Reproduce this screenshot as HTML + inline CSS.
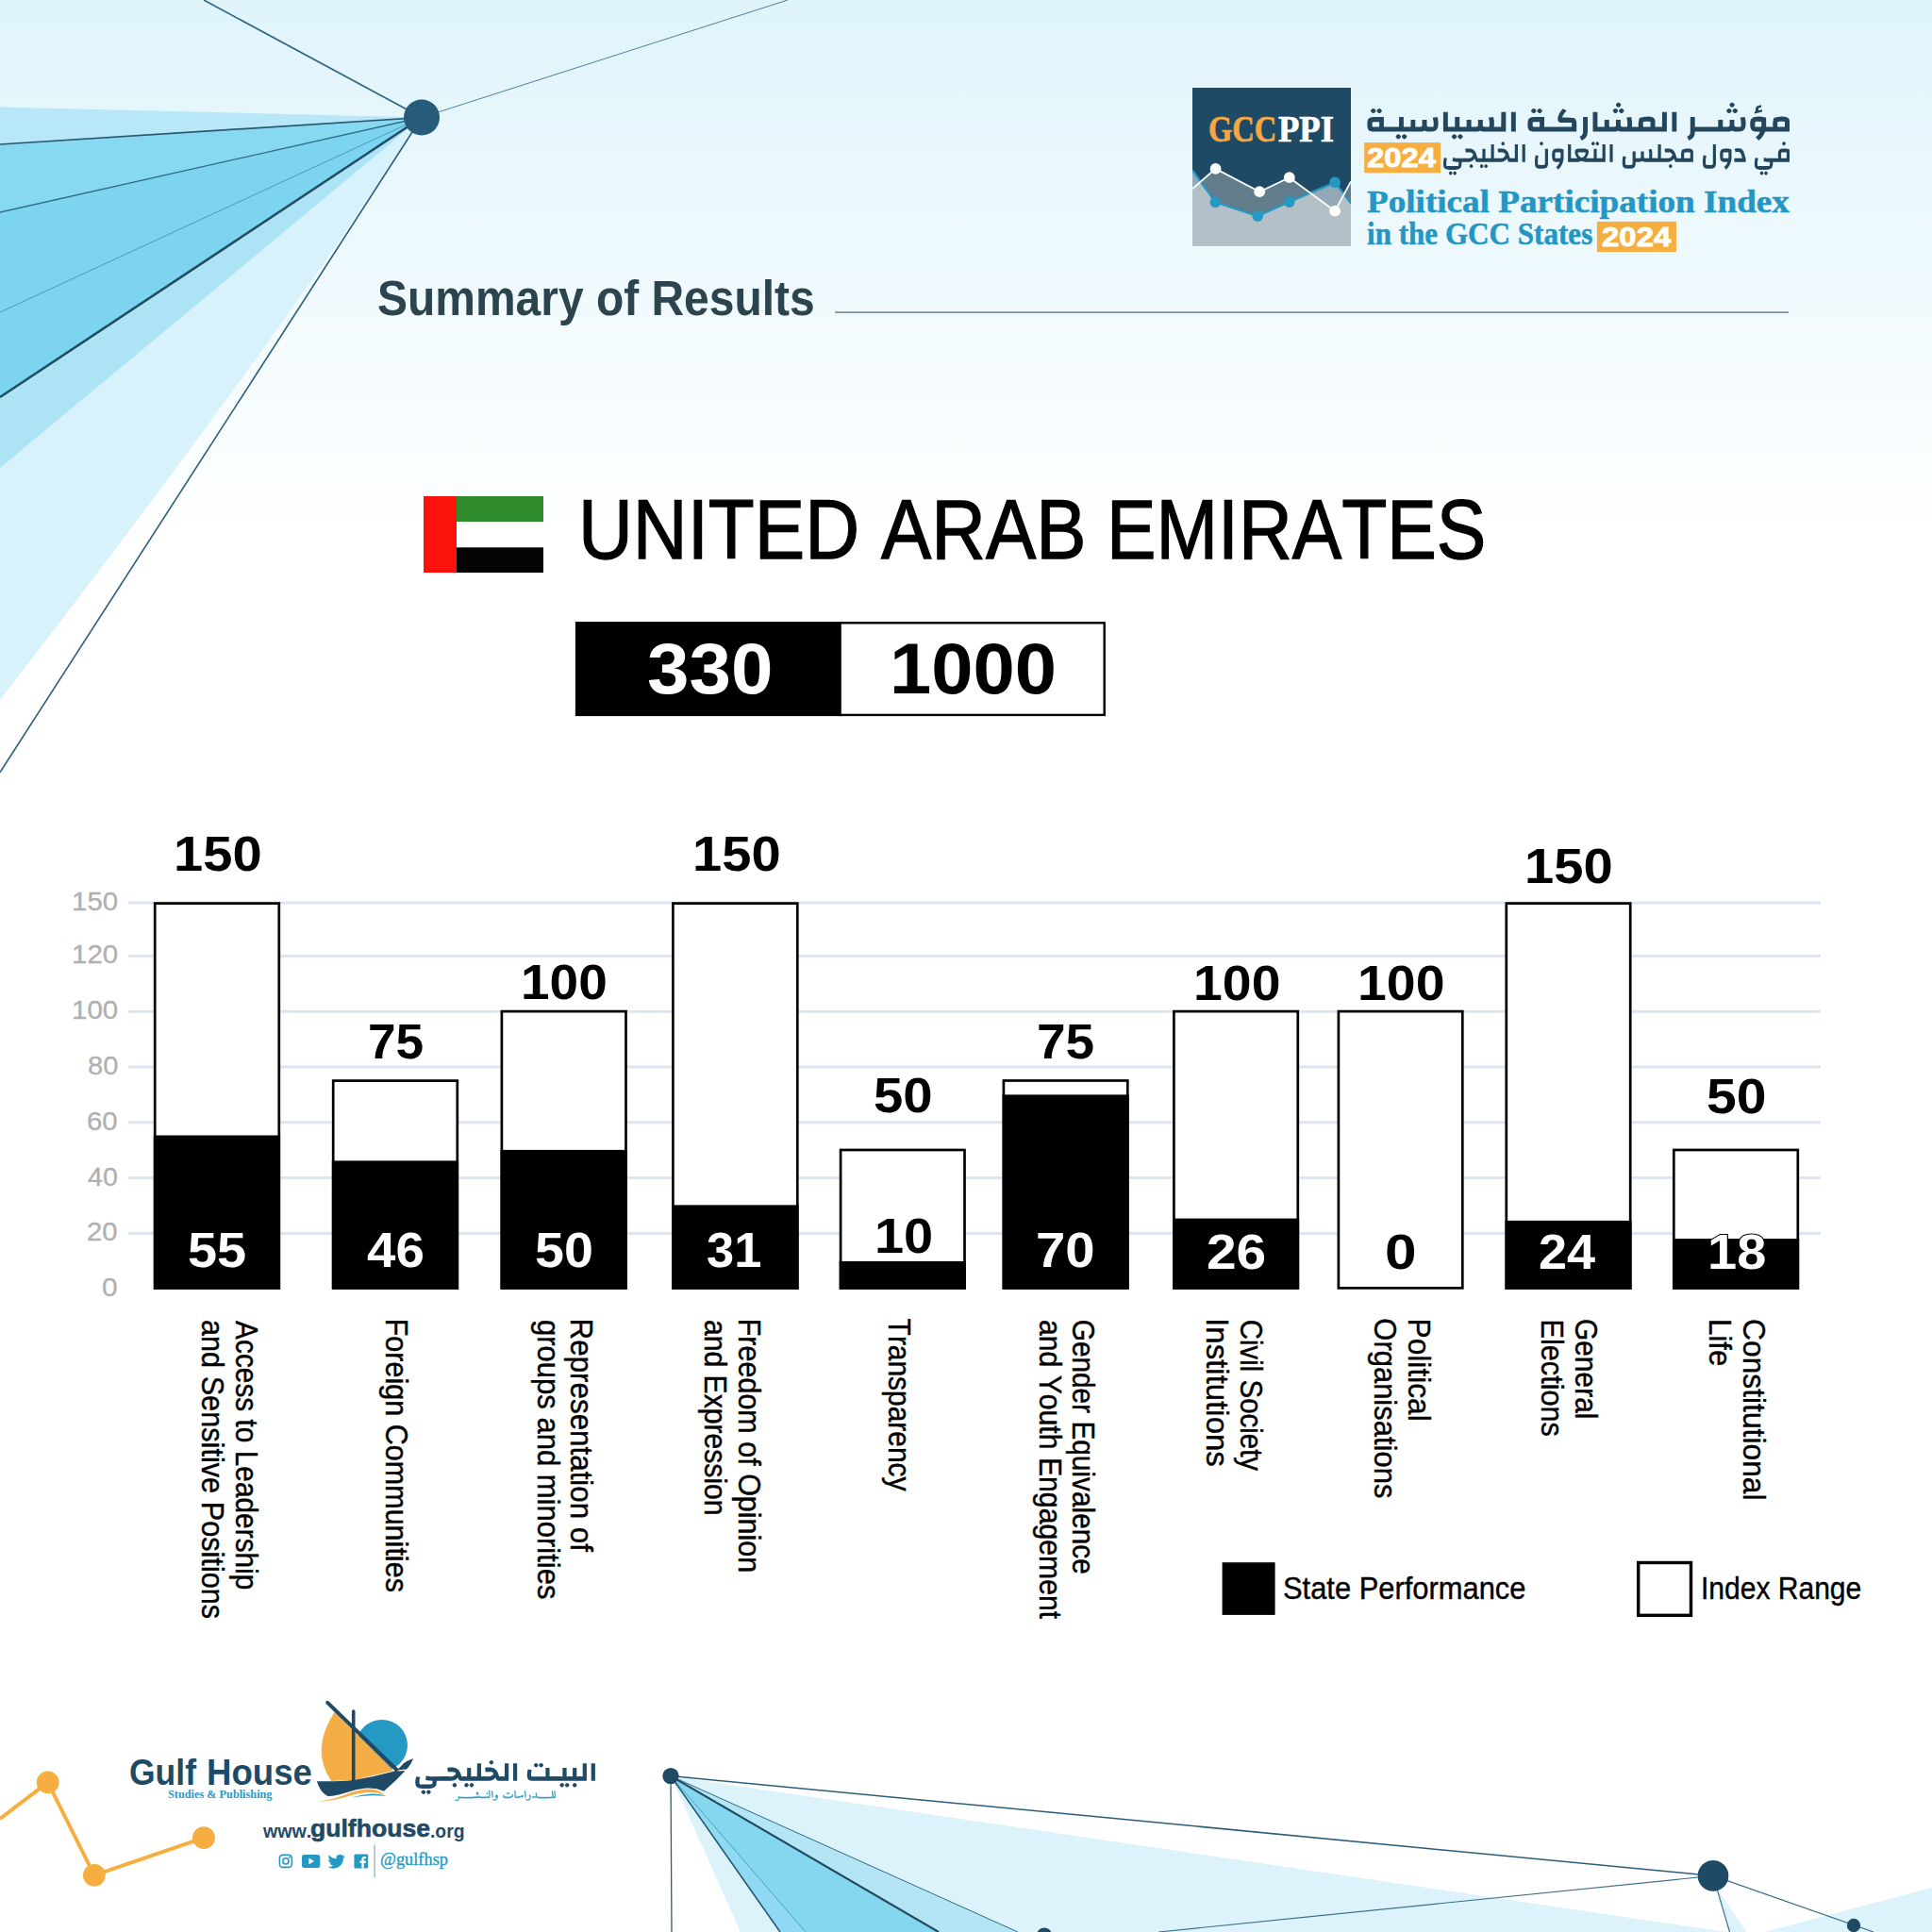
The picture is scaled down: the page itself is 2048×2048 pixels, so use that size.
<!DOCTYPE html>
<html lang="en"><head><meta charset="utf-8"><title>Political Participation Index in the GCC States 2024 - United Arab Emirates</title>
<style>
html,body{margin:0;padding:0}
body{width:2048px;height:2048px;position:relative;overflow:hidden;background:linear-gradient(180deg,#dff4fb 0px,#ffffff 580px,#ffffff 2048px);font-kerning:none}
svg.bg{position:absolute;left:0;top:0}
.t{position:absolute;white-space:nowrap;line-height:1;transform-origin:0 0;font-kerning:none;font-family:"Liberation Sans",sans-serif}
.lf{font-family:"Liberation Serif",serif}
.b{font-weight:bold}
</style></head>
<body>
<svg class="bg" width="2048" height="2048" viewBox="0 0 2048 2048">
<g id="fanTL">
<path d="M447,124.5 L0,495 L0,742 Q292,365 447,124.5Z" fill="#d8f2fb"/>
<polygon points="447,124.5 0,421 0,496" fill="#ade4f5"/>
<polygon points="447,124.5 0,113.4 0,153" fill="#b8e8f7"/>
<polygon points="447,124.5 0,153 0,225" fill="#87d8f1"/>
<polygon points="447,124.5 0,225 0,421" fill="#7dd4ef"/>
<line x1="447" y1="124.5" x2="216" y2="0" stroke="#2f6483" stroke-width="1.6" opacity="1"/>
<line x1="447" y1="124.5" x2="835" y2="0" stroke="#4f7f9a" stroke-width="1.0" opacity="1"/>
<line x1="447" y1="124.5" x2="0" y2="153" stroke="#2a5670" stroke-width="1.7" opacity="1"/>
<line x1="447" y1="124.5" x2="0" y2="225" stroke="#2f6a88" stroke-width="1.3" opacity="1"/>
<line x1="447" y1="124.5" x2="0" y2="331" stroke="#3f95b8" stroke-width="0.9" opacity="1"/>
<line x1="447" y1="124.5" x2="0" y2="421" stroke="#214b62" stroke-width="2.6" opacity="1"/>
<line x1="447" y1="124.5" x2="0" y2="818.7" stroke="#2d5d7b" stroke-width="1.6" opacity="1"/>
<circle cx="447" cy="124.5" r="19" fill="#265b79"/>
</g>
<g id="fanBR">
<polygon points="711,1882.6 1830,2048 785,2048" fill="#dcf3fb"/>
<polygon points="1870,2048 2048,2001 2048,2048" fill="#dcf3fb"/>
<polygon points="1820,2002 1851.6,2048 1833.5,2048" fill="#dcf3fb"/>
<polygon points="711,1882.6 1079,2048 995,2048" fill="#b3e5f5"/>
<polygon points="711,1882.6 995,2048 854,2048" fill="#85d7f0"/>
<polygon points="711,1882.6 854,2048 827,2048" fill="#8fdaf2"/>
<line x1="711" y1="1882.6" x2="712" y2="2048" stroke="#2d5d7b" stroke-width="1.3" opacity="1"/>
<line x1="711" y1="1882.6" x2="827" y2="2048" stroke="#255570" stroke-width="1.6" opacity="1"/>
<line x1="711" y1="1882.6" x2="854" y2="2048" stroke="#3f95b8" stroke-width="0.9" opacity="1"/>
<line x1="711" y1="1882.6" x2="995" y2="2048" stroke="#214b62" stroke-width="2.2" opacity="1"/>
<line x1="711" y1="1882.6" x2="1079" y2="2048" stroke="#2f6a88" stroke-width="1.0" opacity="1"/>
<line x1="711" y1="1882.6" x2="1816" y2="1988.4" stroke="#2d5d7b" stroke-width="1.5" opacity="1"/>
<line x1="1228" y1="2048" x2="1816" y2="1988.4" stroke="#3f6f8a" stroke-width="1.2" opacity="1"/>
<line x1="1816" y1="1988.4" x2="1986" y2="2048" stroke="#3f6f8a" stroke-width="1.2" opacity="1"/>
<line x1="1816" y1="1988.4" x2="1833.5" y2="2048" stroke="#3f6f8a" stroke-width="1.2" opacity="1"/>
<circle cx="711" cy="1882.6" r="8.7" fill="#1f4a66"/>
<circle cx="1816" cy="1988.4" r="16.3" fill="#1f4a66"/>
<circle cx="1965" cy="2041" r="7.2" fill="#1f4a66"/>
<circle cx="1107" cy="2051.5" r="8" fill="#1f4a66"/>
</g>
<g id="orange"><polyline points="0,1928 50.7,1889.4 99.9,1987.8 216,1948.1" fill="none" stroke="#f5ae3f" stroke-width="4"/><circle cx="50.7" cy="1889.4" r="11.9" fill="#f5ae3f"/><circle cx="99.9" cy="1987.8" r="11.9" fill="#f5ae3f"/><circle cx="216" cy="1948.1" r="11.9" fill="#f5ae3f"/></g>
<rect x="885" y="330.3" width="1011" height="1.6" fill="#6f8a94"/>
<defs><clipPath id="sq"><rect width="168" height="168"/></clipPath></defs>
<g id="gccppi" transform="translate(1264,93)" clip-path="url(#sq)">
<rect width="168" height="168" fill="#1f4a66"/>
<polygon points="0,107.1 24.6,85.9 71.2,110.2 102.8,95.2 151.1,130.7 168,99.4 168,168 0,168" fill="#617c8b"/>
<polygon points="0,87.5 24.4,121.3 69.2,136.1 102.8,121.1 151.1,100.4 168,122.7 168,168 0,168" fill="#ffffff" fill-opacity="0.52"/>
<polyline points="0,87.5 24.4,121.3 69.2,136.1 102.8,121.1 151.1,100.4 168,122.7" fill="none" stroke="#2399c4" stroke-width="2.2"/>
<polyline points="0,107.1 24.6,85.9 71.2,110.2 102.8,95.2 151.1,130.7 168,99.4" fill="none" stroke="#fff" stroke-width="1.8"/>
<circle cx="24.4" cy="121.3" r="5.8" fill="#2399c4"/>
<circle cx="69.2" cy="136.1" r="5.8" fill="#2399c4"/>
<circle cx="102.8" cy="121.1" r="5.8" fill="#2399c4"/>
<circle cx="151.1" cy="100.4" r="5.8" fill="#2399c4"/>
<circle cx="24.6" cy="85.9" r="5.9" fill="#fff"/>
<circle cx="71.2" cy="110.2" r="5.9" fill="#fff"/>
<circle cx="102.8" cy="95.2" r="5.9" fill="#fff"/>
<circle cx="151.1" cy="130.7" r="5.9" fill="#fff"/>
</g>
<path fill="#24465c" fill-rule="evenodd" d="M1547.7,142.3 1546.8,142.8 1546.3,143.1 1545.6,143.8 1545.3,144.5 1545.3,145.2 1545.8,146.1 1546.7,146.9 1547.4,147.3 1547.7,147.4 1548.3,147.4 1549,147.1 1549.9,146.3 1550.6,145.3 1550.7,145.1 1550.7,144.7 1550.6,144.3 1550.1,143.7 1549.3,142.8 1548.5,142.4 1548.3,142.3ZM1541.3,142.3 1540.4,142.8 1540,143.1 1539.2,143.8 1538.9,144.5 1538.9,145.2 1539.4,146.1 1540.3,146.9 1541,147.3 1541.3,147.4 1541.9,147.4 1542.6,147.1 1543.5,146.3 1544.2,145.3 1544.3,145.1 1544.3,144.7 1544.2,144.3 1543.8,143.7 1542.9,142.8 1542.2,142.4 1541.9,142.3ZM1488.4,142.3 1487.5,142.8 1487.1,143.1 1486.3,143.8 1486,144.5 1486,145.2 1486.5,146.1 1487.4,146.9 1488.1,147.3 1488.4,147.4 1489,147.4 1489.7,147.1 1490.6,146.3 1491.3,145.3 1491.4,145.1 1491.4,144.7 1491.3,144.3 1490.9,143.7 1490,142.8 1489.3,142.4 1489,142.3ZM1482,142.3 1481.1,142.8 1480.7,143.1 1480,143.8 1479.6,144.5 1479.6,145.2 1480.1,146.1 1481,146.9 1481.7,147.3 1482,147.4 1482.6,147.4 1483.3,147.1 1484.2,146.3 1484.9,145.3 1485,145.1 1485,144.7 1484.9,144.3 1484.5,143.7 1483.6,142.8 1482.9,142.4 1482.6,142.3ZM1788.4,144.8 1790.2,148.8 1790.8,148.7 1792.1,148 1793.6,147 1794.5,146.2 1795.5,144.8 1795.9,143.9 1796.4,142.6 1796.6,141.1 1796.6,140.2 1796.8,139.6 1831.1,139.6 1833,139.4 1834,139.3 1835,139 1836,138.6 1837,139.1 1838.6,139.4 1840.3,139.6 1843.1,139.6 1845.1,139.3 1846.6,138.9 1847.7,138.4 1848,138.2 1849.2,137 1849.9,135.7 1850.3,134.1 1850.6,131.6 1850.5,128.5 1850.1,126.1 1849.5,124.1 1845.4,124.6 1844.6,124.8 1845,126 1845.4,127.6 1845.6,129.5 1845.6,132.9 1845.4,134 1845.4,134.3 1845.2,134.4 1840.7,134.4 1839.4,134.2 1839.1,134 1838.7,133.7 1838.4,133 1838.4,127.1 1833.5,127.1 1833.6,132.6 1833.5,133.3 1833.2,133.8 1832.8,134.1 1832,134.4 1831.3,134.4 1826.5,134.4 1826.3,134.3 1826.3,127.1 1821.4,127.1 1821.3,134.4 1817.3,134.4 1796.7,134.4 1796.7,124.1 1791.8,124.1 1791.8,139.5 1791.7,141.3 1791.4,142.3 1790.8,143.3 1790,143.9 1789.4,144.2 1788.5,144.7ZM1683,124.1 1678.1,124.1 1678.1,139.5 1677.9,141.3 1677.6,142.3 1677,143.3 1676.2,143.9 1675.7,144.2 1674.7,144.7 1674.6,144.8 1676.4,148.8 1677,148.7 1678.3,148 1679.9,147 1680.7,146.2 1681.4,145.2 1682,144.3 1682.6,142.6 1683,140.1ZM1449.4,131.2 1449.5,134 1449.7,135.4 1449.8,136.1 1450.4,137.4 1450.8,137.9 1451.8,138.7 1452.8,139.1 1454.3,139.4 1456,139.6 1505.1,139.6 1507.1,139.4 1508.1,139.3 1509,139 1510,138.6 1511.1,139.1 1512.7,139.4 1514.3,139.6 1517.2,139.6 1519.1,139.3 1520.6,138.9 1521.7,138.4 1522.1,138.2 1523.2,137 1523.9,135.7 1524.4,134.1 1524.6,131.6 1524.6,130 1524.5,128.5 1524.2,126.1 1523.8,124.7 1523.6,124.1 1518.9,124.7 1518.7,124.8 1519,126 1519.4,127.6 1519.7,129.5 1519.7,132.9 1519.5,134 1519.4,134.3 1519.2,134.4 1514.8,134.4 1513.5,134.2 1513.1,134 1512.7,133.7 1512.5,133 1512.5,127.1 1507.5,127.1 1507.6,132.6 1507.4,133.5 1507.3,133.8 1506.8,134.1 1506,134.4 1505.3,134.4 1500.5,134.4 1500.3,134.3 1500.3,127.1 1495.5,127.1 1495.4,134.4 1491.4,134.4 1488.1,134.4 1487.9,134.3 1487.9,124.1 1483.1,124.1 1483,134.4 1479,134.4 1466.9,134.4 1466.9,124.1 1456,124.1 1454.4,124.2 1452.8,124.6 1451.8,125 1450.8,125.7 1450.2,126.6 1449.8,127.9 1449.5,129.6ZM1454.8,129.8 1455.2,129.5 1455.5,129.3 1456,129.2 1461.9,129.2 1462.1,129.4 1462.1,134.3 1461.9,134.4 1456,134.4 1455.5,134.4 1455.2,134.2 1454.8,133.9 1454.6,133.4 1454.6,130.3ZM1855.6,128 1855.4,129 1855.2,130.8 1855.3,133.4 1855.5,134.9 1856,136.4 1856.4,137.2 1856.9,137.8 1857.5,138.4 1858.1,138.8 1859.1,139.2 1860.1,139.4 1861.3,139.6 1865.8,139.8 1864.7,141.7 1863.1,143.7 1861.3,145.2 1861.1,145.5 1864.2,148.7 1864.5,148.8 1866.5,146.9 1868.2,144.9 1869.9,142.3 1870.7,140.8 1871,139.9 1871.2,139.6 1897,139.6 1897,129.1 1896.8,127.4 1896.4,126.1 1895.9,125.4 1895.3,124.9 1894.5,124.4 1893.1,123.9 1891.5,123.7 1889.7,123.6 1886.6,123.7 1883.4,124.2 1881.2,124.8 1880.4,125.1 1880.4,125.4 1880.2,125.7 1879.6,127.7 1879.3,129.9 1879.3,133.2 1879.5,134.1 1879.4,134.4 1872.2,134.4 1872.1,124.8 1870.3,124.2 1868.7,123.9 1867.5,123.7 1864.1,123.6 1862.1,123.7 1860.1,124 1859,124.3 1858.1,124.7 1857.5,125.1 1856.5,126.1 1856,127.1ZM1884.4,129.3 1884.7,129.1 1887.5,128.8 1890.8,128.8 1891.6,128.9 1892,129 1892,134.4 1884.5,134.4 1884.3,134.3 1884.2,133 1884.2,130.6 1884.3,129.5ZM1860.6,129.4 1861,129 1861.7,128.8 1867.2,128.9 1867.2,133.6 1867.2,133.9 1866.7,134.3 1866,134.4 1860.4,134.4 1860.4,129.9ZM1772.4,118.8 1772.4,139.6 1777.3,139.6 1777.3,118.8ZM1688.5,118.8 1688.5,139.6 1710.6,139.6 1712.5,139.4 1713.5,139.3 1714.5,139 1715.4,138.6 1716,138.9 1716.7,139.2 1717.9,139.4 1719.6,139.6 1766.9,139.6 1766.9,118.8 1762,118.8 1761.9,134.4 1754.5,134.4 1754.5,129.1 1754.5,127.9 1754.1,126.6 1753.7,125.7 1752.9,124.9 1752.1,124.4 1750.6,123.9 1749.8,123.7 1747.3,123.6 1745.1,123.7 1742.2,124 1740.2,124.4 1738.7,124.8 1737.9,125.1 1737.9,125.4 1737.7,125.7 1737.2,127.7 1736.8,129.9 1736.8,133.2 1737,134.1 1736.9,134.4 1729.7,134.4 1730,132.9 1730.1,131.6 1730,128.5 1729.6,126.1 1729.3,124.7 1729,124.1 1724.9,124.6 1724.2,124.8 1724.5,126 1724.9,127.6 1725.1,129.5 1725.1,132.9 1724.9,134 1724.9,134.3 1724.7,134.4 1720.3,134.4 1718.9,134.2 1718.6,134 1718.2,133.7 1717.9,133 1717.9,127.1 1713,127.1 1713,133.3 1712.9,133.5 1712.5,133.9 1711.8,134.3 1710.8,134.4 1706,134.4 1705.8,134.3 1705.8,127.1 1700.9,127.1 1700.8,134.4 1693.4,134.4 1693.4,118.8ZM1742,129.3 1742.2,129.1 1745.1,128.8 1748.3,128.8 1749.1,128.9 1749.6,129 1749.5,134.4 1742,134.4 1741.9,134.3 1741.7,133 1741.7,130.6 1741.9,129.5ZM1601.9,118.8 1601.9,139.6 1606.8,139.6 1606.8,118.8ZM1529.9,118.8 1529.9,139.6 1564.4,139.6 1566.4,139.4 1567.3,139.3 1568.3,139 1569.2,138.6 1569.8,138.9 1570.5,139.2 1571.8,139.4 1573.4,139.6 1596.3,139.6 1596.3,118.8 1591.4,118.8 1591.3,134.4 1583.5,134.4 1583.8,132.9 1583.9,131.6 1583.8,128.5 1583.5,126.1 1583.1,124.7 1582.8,124.1 1578.7,124.6 1578,124.8 1578.3,126 1578.7,127.6 1578.9,129.5 1578.9,132.9 1578.8,134 1578.7,134.3 1578.5,134.4 1574.1,134.4 1572.7,134.2 1572.4,134 1572,133.7 1571.8,133 1571.8,127.1 1566.8,127.1 1566.8,133.3 1566.7,133.5 1566.4,133.9 1565.6,134.3 1564.6,134.4 1559.8,134.4 1559.6,134.3 1559.6,127.1 1554.7,127.1 1554.7,134.4 1550.7,134.4 1547.4,134.4 1547.2,134.3 1547.2,124.1 1542.3,124.1 1542.3,134.4 1534.8,134.4 1534.8,118.8ZM1671,128.6 1670.6,127.3 1670.5,126.9 1670.1,126.4 1669.5,125.8 1669,125.5 1668,125.1 1666.6,124.9 1665,124.8 1655.9,124.6 1656.5,123 1657.6,121.1 1659.3,118.8 1660.7,117.3 1656.8,115.3 1655.8,116.3 1654.1,118.4 1652.7,120.7 1652.1,122.2 1651.7,123.5 1651.3,125.1 1651.3,127.1 1651.6,128 1651.9,128.6 1652.3,129 1652.8,129.5 1653.5,129.8 1654.2,130 1654.8,130 1666.2,130.1 1666.1,134.4 1637,134.4 1637,124.1 1626.1,124.1 1623.9,124.3 1622.3,124.7 1621.2,125.4 1620.4,126.3 1619.9,127.6 1619.5,129.6 1619.4,132.5 1619.6,134.8 1619.9,136.1 1620.2,137 1620.6,137.6 1621.2,138.3 1621.8,138.7 1622.8,139.1 1625,139.5 1626.1,139.6 1671.2,139.6 1671.2,130.7ZM1624.8,129.8 1625.2,129.5 1625.5,129.3 1626,129.2 1631.9,129.2 1632.1,129.4 1632.1,134.3 1631.9,134.4 1626,134.4 1625.5,134.4 1625.2,134.2 1624.8,133.9 1624.7,133.4 1624.7,130.3ZM1839,115 1838.1,115.4 1837.6,115.8 1836.9,116.5 1836.6,117.2 1836.6,117.9 1837.1,118.8 1838,119.6 1838.7,120 1839,120.1 1839.6,120.1 1840.3,119.7 1841.2,119 1841.9,118 1842,117.8 1842,117.3 1841.9,117 1841.5,116.3 1840.6,115.5 1839.9,115.1 1839.6,115ZM1832.6,115 1832.2,115.2 1831.6,115.5 1830.7,116.3 1830.3,117 1830.2,117.3 1830.2,117.8 1830.6,118.6 1831.4,119.4 1831.9,119.7 1832.6,120.1 1833.2,120.1 1833.7,119.9 1834.2,119.6 1835,118.8 1835.5,118.1 1835.6,117.8 1835.6,117.2 1835.3,116.5 1834.9,116.1 1834.1,115.4 1833.2,115ZM1718.5,115 1717.6,115.4 1717.2,115.8 1716.4,116.5 1716.1,117.2 1716.1,117.9 1716.6,118.8 1717.5,119.6 1718.2,120 1718.5,120.1 1719.1,120.1 1719.8,119.7 1720.7,119 1721.4,118 1721.5,117.8 1721.5,117.3 1721.4,117 1721,116.3 1720.1,115.5 1719.4,115.1 1719.1,115ZM1712.1,115 1711.7,115.2 1711.1,115.5 1710.2,116.3 1709.8,117 1709.7,117.3 1709.7,117.8 1710.2,118.6 1710.9,119.4 1711.4,119.7 1712.1,120.1 1712.7,120.1 1713.2,119.9 1713.7,119.6 1714.5,118.8 1715,118.1 1715.1,117.8 1715.1,117.2 1714.8,116.5 1714.4,116.1 1713.6,115.4 1712.7,115ZM1631.8,115 1630.9,115.4 1629.9,116.4 1629.4,117.2 1629.4,117.8 1629.8,118.5 1630.8,119.5 1631.6,120 1631.8,120.1 1632.4,120.1 1632.9,119.9 1633.5,119.5 1634.5,118.5 1634.8,117.8 1634.8,117.3 1634.4,116.4 1633.3,115.4 1632.4,115ZM1625.4,115 1624.7,115.3 1623.7,116.3 1623.2,116.8 1623.1,117.3 1623.1,117.7 1623.3,118.3 1624.2,119.3 1624.9,119.8 1625.4,120.1 1626.1,120.1 1627,119.7 1627.9,118.8 1628.5,117.9 1628.5,117.2 1628.1,116.5 1627.2,115.6 1626.2,115ZM1461.8,115 1460.9,115.4 1459.9,116.4 1459.4,117.2 1459.4,117.8 1459.8,118.5 1460.7,119.5 1461.5,120 1461.8,120.1 1462.4,120.1 1462.9,119.9 1463.5,119.5 1464.5,118.5 1464.8,117.8 1464.8,117.3 1464.4,116.4 1463.3,115.4 1462.4,115ZM1455.4,115 1454.7,115.3 1453.7,116.3 1453.2,116.8 1453,117.3 1453,117.7 1453.3,118.3 1454.2,119.3 1454.9,119.8 1455.4,120.1 1456,120.1 1456.9,119.7 1457.9,118.8 1458.4,117.9 1458.4,117.2 1458.1,116.5 1457.2,115.6 1456.1,115ZM1867.1,111.4 1865.8,111.4 1863.8,111.9 1862.6,112.5 1862.2,112.9 1861.7,113.4 1861.3,114 1861,115.3 1861,117.1 1861,117.6 1861.2,117.9 1861,118.1 1859.9,118.3 1859.9,120.4 1860.9,120.2 1868,118.4 1868,116.3 1864.9,117.1 1864.4,117.1 1864,116.8 1864.1,114.4 1865.8,113.9 1867.1,113.8ZM1835.8,108.7 1834.9,109.1 1834.5,109.4 1833.8,110.2 1833.4,110.9 1833.4,111.6 1833.9,112.4 1834.8,113.3 1835.5,113.7 1835.8,113.8 1836.4,113.8 1837.1,113.4 1838,112.7 1838.7,111.7 1838.8,111.4 1838.8,111 1838.7,110.7 1838.3,110 1837.4,109.2 1836.7,108.8 1836.4,108.7ZM1715.3,108.7 1714.4,109.1 1714,109.4 1713.3,110.2 1712.9,110.9 1712.9,111.6 1713.4,112.4 1714.3,113.3 1715,113.7 1715.3,113.8 1715.9,113.8 1716.6,113.4 1717.5,112.7 1718.2,111.7 1718.3,111.4 1718.3,111 1718.2,110.7 1717.8,110 1716.9,109.2 1716.2,108.8 1715.9,108.7Z"/>
<path fill="#24465c" fill-rule="evenodd" d="M1871.8,181.5 1871.4,181.8 1870.5,182.7 1870.2,183.2 1870.2,183.7 1870.2,184 1870.4,184.4 1871.1,185.2 1871.6,185.6 1871.8,185.6 1872.2,185.6 1872.7,185.4 1873.5,184.6 1873.8,184 1873.9,183.8 1873.9,183.3 1873.6,182.7 1872.9,181.9 1872.4,181.6 1872.2,181.5ZM1867.3,181.5 1866.8,181.8 1866.1,182.6 1865.7,183.2 1865.6,183.6 1865.9,184.4 1866.5,185.1 1867.1,185.6 1867.3,185.6 1867.7,185.6 1868.3,185.3 1868.9,184.6 1869.4,183.8 1869.4,183.3 1869.1,182.7 1868.8,182.4 1868.3,181.8 1867.7,181.5ZM1542,181.5 1541.5,181.8 1540.6,182.7 1540.4,183.2 1540.3,183.7 1540.4,184 1540.6,184.4 1541.2,185.2 1541.8,185.6 1542,185.6 1542.3,185.6 1542.8,185.4 1543.6,184.6 1543.9,184 1544,183.8 1544,183.3 1543.7,182.7 1543,181.9 1542.5,181.6 1542.3,181.5ZM1537.5,181.5 1536.9,181.8 1536.2,182.6 1535.9,183.2 1535.8,183.6 1536.1,184.4 1536.7,185.1 1537.3,185.6 1537.5,185.6 1537.8,185.6 1538.5,185.3 1539.1,184.6 1539.5,183.8 1539.5,183.3 1539.2,182.7 1539,182.4 1538.4,181.8 1537.8,181.5ZM1770.7,174.1 1770,174.5 1769.6,174.9 1769.3,175.3 1769,175.9 1769,176.4 1769.3,177.1 1770,177.8 1770.5,178.1 1770.7,178.2 1771,178.2 1771.4,178.1 1772,177.5 1772.5,176.8 1772.6,176.5 1772.7,176.1 1772.6,175.6 1772.3,175.2 1771.8,174.6 1771.2,174.2 1771,174.1ZM1575,174.1 1574.4,174.4 1573.7,175.2 1573.4,175.8 1573.3,176.2 1573.6,177 1574.2,177.7 1574.8,178.1 1575,178.2 1575.3,178.2 1576,177.8 1576.6,177.2 1577,176.4 1577,175.9 1576.7,175.3 1576.5,175 1575.9,174.4 1575.3,174.1ZM1570.5,174.1 1569.9,174.4 1569.3,175.1 1568.9,175.8 1568.9,176.5 1569.1,177 1569.5,177.5 1569.9,177.9 1570.5,178.2 1570.8,178.2 1571.5,177.8 1572.2,177.1 1572.5,176.4 1572.5,175.8 1572.3,175.4 1571.7,174.7 1571.1,174.2 1570.9,174.1ZM1559.4,174.1 1558.8,174.5 1558.4,174.9 1558,175.3 1557.7,175.9 1557.7,176.4 1558.1,177.1 1558.8,177.8 1559.2,178.1 1559.4,178.2 1559.8,178.2 1560.1,178.1 1560.8,177.5 1561.2,176.8 1561.4,176.5 1561.5,176.1 1561.3,175.6 1561,175.2 1560.5,174.6 1560,174.2 1559.8,174.1ZM1641,157.8 1637.8,157.8 1637.8,173.6 1637.6,174.1 1637.3,174.4 1636.9,174.7 1635.8,174.9 1630.4,174.8 1630.3,174.3 1630.1,173 1630.1,169.6 1630.3,167.5 1630.5,166.7 1630.8,165.2 1630.3,165 1627.9,164.6 1627.4,166.2 1627.1,168.6 1627,170.4 1627,173.1 1627.2,175 1627.4,176.1 1627.8,176.8 1628.5,177.6 1629.4,178.2 1630,178.4 1631,178.7 1632.4,178.8 1635.2,178.8 1637.2,178.6 1637.9,178.4 1638.7,178.1 1639.4,177.7 1640.1,177 1640.5,176.1 1640.6,175.7 1640.9,174.7 1641,173.1ZM1897,158.5 1895.6,158 1893.8,157.6 1892.3,157.5 1890,157.5 1888.1,157.8 1887.3,158.1 1886.4,158.6 1885.8,159.2 1885.4,159.7 1885.2,160.3 1885,160.9 1884.8,162.2 1884.8,165.3 1885,167 1885.1,167.4 1885,167.8 1873.4,167.8 1871.8,167.5 1870.8,167.3 1870.2,167.1 1870,167.1 1869.5,170.5 1869.6,170.8 1870.8,171.2 1872.3,171.5 1874.3,171.7 1876.1,171.8 1876.1,174.9 1876,175.2 1875.6,175.5 1875.4,175.7 1874.8,175.9 1873.1,176.1 1863.3,176.1 1863.2,175.6 1863,174.5 1863,171.7 1863.4,169.5 1863.8,167.8 1860.7,167.2 1860.4,168.4 1860.1,169.8 1859.9,172.4 1859.9,174.6 1860.1,176.1 1860.3,177 1860.8,177.9 1861.4,178.6 1861.8,178.9 1863.1,179.5 1864.3,179.8 1865.4,179.9 1867.5,180.1 1871,180.1 1874.3,179.8 1875.5,179.5 1876.6,179.1 1877.1,178.8 1877.7,178.4 1878.4,177.5 1878.8,176.6 1879.1,175.5 1879.3,174.2 1879.3,171.7 1897,171.7ZM1888.4,161.6 1889,161.4 1893.9,161.5 1893.9,167 1893.7,167.4 1893.5,167.6 1893.2,167.8 1888.1,167.7 1888.1,162.6 1888.2,161.9ZM1832.4,157.6 1830.8,157.5 1828.5,157.5 1826.9,157.7 1825.6,158.1 1824.7,158.8 1824.4,159.2 1824,159.7 1823.6,160.8 1823.2,162.6 1823.2,163.5 1823.2,165.5 1823.3,167.2 1823.6,168.8 1824,169.8 1824.3,170.2 1824.8,170.8 1825.2,171.1 1826.4,171.5 1827.3,171.7 1831.4,171.8 1830.6,173.5 1829.6,175 1829.1,175.5 1827.6,177.2 1827.6,177.3 1828.1,177.8 1829.6,179.8 1830.8,178.7 1831.6,177.8 1832.6,176.4 1833.5,174.9 1834.3,173 1834.7,172.1 1835.1,170.8 1835.4,169 1835.5,168.1 1835.5,158.5 1834.1,158ZM1826.9,161.6 1827.3,161.4 1832.3,161.5 1832.3,166.9 1832.2,167.3 1831.9,167.6 1831.6,167.8 1826.5,167.7 1826.5,162.3 1826.7,161.8ZM1654.4,157.6 1652.8,157.5 1650.5,157.5 1648.9,157.7 1647.7,158.1 1646.7,158.8 1646.4,159.2 1646,159.7 1645.6,160.8 1645.2,162.6 1645.2,163.5 1645.2,165.5 1645.3,167.2 1645.6,168.8 1646,169.8 1646.3,170.2 1646.8,170.8 1647.2,171.1 1648.4,171.5 1649.3,171.7 1653.4,171.8 1652.6,173.5 1651.6,175 1651.2,175.5 1649.6,177.2 1649.6,177.3 1650.1,177.8 1651.6,179.8 1652.8,178.7 1653.6,177.8 1654.6,176.4 1655.5,174.9 1656.3,173 1656.7,172.1 1657.1,170.8 1657.4,169 1657.5,168.1 1657.5,158.5 1656.1,158ZM1648.9,161.6 1649.3,161.4 1654.3,161.5 1654.3,166.9 1654.2,167.3 1653.9,167.6 1653.6,167.8 1648.5,167.7 1648.5,162.3 1648.7,161.8ZM1838.8,157.7 1838.8,157.9 1839.4,160.3 1839.5,160.6 1839.7,161.5 1840.1,161.3 1841.7,161.1 1842.7,161.1 1843.2,161.2 1843.8,161.3 1844.3,161.6 1844.9,162.2 1845.5,163.2 1845.9,164.3 1846.5,166.4 1846.7,167.5 1846.8,167.5 1846.7,167.8 1838.4,167.8 1838.4,171.7 1850.6,171.7 1850.6,168.7 1850,166.1 1849.4,163.9 1848.7,161.8 1848.1,160.3 1847.4,159.2 1846.7,158.4 1846.3,158.1 1845.2,157.5 1843.6,157.2 1841,157.2 1839.5,157.5ZM1794.8,160.5 1794.5,159.6 1794.2,159 1793.7,158.5 1792.9,158 1792.3,157.8 1791.3,157.5 1790.6,157.5 1788.5,157.5 1787.1,157.6 1785.1,158 1782.9,158.7 1782.9,158.9 1782.9,158.9 1782.3,161.1 1782.1,162.7 1782,163.4 1782,166.1 1782.2,167.5 1782.1,167.8 1777.6,167.7 1777.5,167.3 1777,165.9 1776.1,163.3 1775.6,162 1775.3,161.3 1774.7,160.4 1774.2,159.8 1773.3,158.9 1772.8,158.6 1771.9,158.1 1770.8,157.8 1769.6,157.5 1768.9,157.5 1766.7,157.5 1765,157.6 1765,157.7 1764.5,157.7 1764.5,158.1 1764.8,159.8 1764.8,160.3 1765,161.5 1766.1,161.4 1769,161.4 1770.2,161.6 1770.8,161.8 1771.4,162.2 1772,162.7 1772.8,163.7 1772.8,164.1 1772.4,165.1 1772.1,165.5 1771.1,166.7 1770.5,167.2 1769.5,167.6 1768.9,167.8 1760.7,167.7 1760.7,153.1 1757.5,153.1 1757.4,167.8 1751.1,167.6 1751.2,167.2 1751.4,165.5 1751.4,162.5 1751.3,160.9 1751.1,159.5 1750.8,158.3 1750.7,157.9 1749.8,158 1747.6,158.4 1747.6,158.6 1748,160.5 1748.3,162.6 1748.3,166.1 1748.1,167.6 1747.9,167.8 1743.9,167.8 1743.4,167.6 1743.1,167.5 1742.8,167.2 1742.6,166.6 1742.6,160.5 1739.4,160.5 1739.4,166.7 1739.3,167.1 1739,167.5 1738.7,167.6 1738.2,167.8 1733.8,167.7 1733.8,160.5 1730.6,160.5 1730.6,173.7 1730.5,174.1 1729.9,174.6 1729.5,174.7 1728.7,174.9 1723.2,174.8 1723.1,174.3 1722.9,173 1722.9,170 1723.2,168.1 1723.6,166.4 1723.6,166 1722.8,165.9 1721.9,165.7 1720.6,165.5 1720.4,166.1 1720,167.8 1719.8,170.6 1719.8,173.2 1720,175.1 1720.3,176.1 1720.5,176.7 1720.9,177.3 1721.4,177.8 1722.1,178.2 1723.3,178.6 1725.2,178.8 1728,178.8 1729,178.7 1730.7,178.4 1731.5,178.1 1732.2,177.7 1732.9,177 1733.3,176.1 1733.6,175.1 1733.7,174.1 1733.9,171.7 1737.5,171.7 1738.4,171.6 1739.9,171.3 1740.3,171.2 1740.9,170.8 1741.1,170.8 1741.7,171.2 1742.6,171.5 1744.3,171.7 1768.3,171.7 1769.3,171.5 1770.2,171.3 1770.8,171.1 1772,170.5 1773,169.7 1774.1,168.5 1774.4,168.1 1774.6,168.4 1775.1,170.1 1775.4,170.7 1775.6,171 1776,171.4 1776.3,171.5 1776.8,171.7 1794.9,171.7 1794.9,162ZM1785.5,161.8 1786.2,161.6 1787.9,161.4 1790.7,161.4 1791.6,161.5 1791.8,161.7 1791.7,167.8 1785.4,167.7 1785.2,166.4 1785.1,164.6 1785.2,163.4 1785.3,162.6ZM1706.4,153.1 1706.4,171.7 1709.6,171.7 1709.6,153.1ZM1662.1,153.1 1662.1,171.7 1672.5,171.7 1673.8,171.5 1675.7,171.1 1676.6,170.7 1676.8,170.7 1677.5,171 1678.5,171.3 1680.1,171.6 1680.9,171.7 1701.8,171.7 1701.8,153.1 1698.6,153.1 1698.6,167.8 1692.6,167.7 1692.6,157.8 1689.5,157.8 1689.4,167.8 1681.2,167.7 1682.2,166.4 1682.7,165.5 1683.3,164.2 1683.7,163.1 1683.9,162 1684,161.3 1684,160.4 1683.9,159.9 1683.5,159 1683.1,158.6 1682.6,158.3 1681.7,157.9 1680.2,157.6 1678.4,157.5 1675.1,157.5 1672.4,157.8 1671.2,158.1 1670.5,158.5 1670.2,158.7 1669.8,159.2 1669.6,159.7 1669.5,160.4 1669.5,161.3 1669.7,163.1 1670.1,164.4 1670.6,165.4 1671.6,166.9 1672.3,167.7 1665.3,167.7 1665.3,153.1ZM1672.6,162.2 1672.7,161.4 1680.8,161.5 1680.8,162.2 1680.6,163.3 1680.1,164.5 1679.8,165 1679,165.9 1678.4,166.4 1677.6,166.8 1676.8,167.1 1676.6,167.1 1676.2,166.9 1675.1,166.4 1674.4,165.8 1673.6,165 1673.2,164.4 1672.9,163.5ZM1613.6,153.1 1613.6,171.7 1616.8,171.7 1616.8,153.1ZM1609,153.1 1605.8,153.1 1605.8,167.8 1600.6,167.7 1600.6,167.3 1600,165.9 1599.2,163.3 1598.8,162.1 1598,160.6 1597.3,159.8 1596.2,158.8 1595,158.1 1593.9,157.8 1592,157.5 1589.8,157.5 1588.1,157.6 1588.1,157.7 1587.6,157.7 1587.6,158.1 1587.8,159.8 1587.8,160.3 1588.1,161.5 1589.2,161.4 1592.1,161.4 1593.2,161.6 1593.8,161.8 1594.5,162.2 1595.4,163 1595.9,163.8 1595.9,164.1 1595.5,165.1 1594.9,165.9 1594.2,166.7 1593.6,167.2 1593,167.5 1592,167.8 1583.7,167.7 1583.7,153.1 1580.6,153.1 1580.5,167.8 1574.6,167.7 1574.6,157.8 1571.4,157.8 1571.4,167.8 1566.3,167.7 1566.2,167.3 1565.7,165.9 1564.9,163.3 1564.4,162.1 1564,161.3 1563.4,160.4 1562.9,159.8 1562.3,159.2 1561.5,158.6 1561,158.3 1559.8,157.8 1558.4,157.5 1557.6,157.5 1555.5,157.5 1553.8,157.6 1553.7,157.7 1553.2,157.7 1553.2,158.1 1553.5,159.8 1553.5,160.3 1553.7,161.5 1554.9,161.4 1557.7,161.4 1558.6,161.5 1559.5,161.8 1560.2,162.2 1560.7,162.7 1561.3,163.4 1561.6,163.8 1561.6,164.1 1561.1,165.1 1560.6,165.9 1559.6,166.9 1558.7,167.5 1557.6,167.8 1543.5,167.8 1542,167.5 1541,167.3 1540.4,167.1 1540.1,167.1 1539.6,170.5 1539.7,170.8 1541,171.2 1542.5,171.5 1544.5,171.7 1546.2,171.8 1546.2,174.9 1546.1,175.2 1545.6,175.7 1545,175.9 1543.3,176.1 1533.4,176.1 1533.3,175.6 1533.2,174.5 1533.2,171.7 1533.5,169.5 1533.9,167.8 1530.9,167.2 1530.5,168.7 1530.1,171.4 1530,172.4 1530,174.6 1530.2,176.1 1530.3,176.7 1530.7,177.5 1530.9,177.9 1531.5,178.6 1532.5,179.2 1533.8,179.6 1534.9,179.8 1536.3,180 1537.7,180.1 1541.2,180.1 1543.3,179.9 1544.4,179.8 1545.4,179.5 1546.7,179.1 1547.6,178.6 1548.4,177.8 1548.7,177.3 1549.1,176.1 1549.3,175 1549.5,171.7 1557.1,171.7 1558.4,171.5 1559.6,171.1 1560.7,170.5 1561.8,169.7 1562.9,168.5 1563.1,168.1 1563.3,168.4 1563.9,170.1 1564.1,170.7 1564.3,171 1564.8,171.4 1565,171.5 1565.6,171.7 1591.4,171.7 1592.4,171.5 1593.3,171.3 1593.9,171.1 1595.1,170.5 1596.1,169.7 1597.2,168.5 1597.5,168.1 1597.7,168.4 1598.2,170.1 1598.5,170.7 1598.9,171.2 1599.6,171.6 1599.9,171.7 1609,171.7ZM1818.9,152.9 1815.8,152.9 1815.8,173.6 1815.6,174.1 1815.3,174.4 1814.9,174.7 1813.8,174.9 1808.4,174.8 1808.3,174.3 1808.1,173 1808.1,169.6 1808.3,167.5 1808.5,166.7 1808.8,165.2 1808.3,165 1805.8,164.6 1805.6,165.5 1805.4,166.6 1805,169.3 1805,170.4 1805,173.1 1805,174.1 1805.3,175.6 1805.8,176.8 1806.5,177.6 1806.9,177.9 1807.4,178.2 1808,178.4 1809.6,178.7 1810.4,178.8 1813.2,178.8 1814.2,178.7 1815.9,178.4 1816.7,178.1 1817.4,177.7 1818.2,176.7 1818.5,176.1 1818.8,175.1 1819,173.1ZM1890.9,150.2 1890.2,150.6 1889.8,150.9 1889.5,151.4 1889.2,152 1889.2,152.5 1889.6,153.2 1890.2,153.9 1890.7,154.2 1890.9,154.3 1891.2,154.3 1891.6,154.1 1892.3,153.5 1892.7,152.9 1892.9,152.6 1892.9,152.2 1892.8,151.7 1892.5,151.2 1892,150.6 1891.4,150.3 1891.2,150.2ZM1693.1,150.2 1692.6,150.5 1691.9,151.2 1691.5,151.9 1691.5,152.6 1691.8,153.1 1692.1,153.5 1692.6,154 1693.2,154.3 1693.4,154.3 1694.1,153.9 1694.8,153.2 1695.1,152.5 1695.1,151.9 1694.9,151.5 1694.3,150.7 1693.7,150.3 1693.5,150.2ZM1688.7,150.2 1688,150.6 1687.6,150.9 1687.3,151.4 1687,152 1687,152.5 1687.3,153.2 1688,153.9 1688.5,154.2 1688.7,154.3 1689,154.3 1689.3,154.1 1690,153.5 1690.5,152.9 1690.6,152.6 1690.7,152.2 1690.6,151.7 1690.3,151.2 1689.7,150.6 1689.2,150.3 1689,150.2ZM1633.8,150.2 1633.4,150.4 1632.5,151.3 1632.2,151.8 1632.2,152.3 1632.2,152.6 1632.4,153 1633.1,153.8 1633.6,154.2 1633.8,154.3 1634.2,154.3 1634.7,154.1 1635.5,153.2 1635.8,152.6 1635.9,152.4 1635.9,152 1635.6,151.4 1634.9,150.6 1634.4,150.3 1634.2,150.2ZM1593,150.2 1592.4,150.5 1591.8,151.2 1591.4,151.9 1591.4,152.6 1591.6,153.1 1592,153.5 1592.4,154 1593,154.3 1593.3,154.3 1594,153.9 1594.7,153.2 1595,152.5 1595,151.9 1594.8,151.5 1594.2,150.7 1593.6,150.3 1593.4,150.2Z"/>
<rect x="1446.2" y="151.1" width="80.8" height="32.1" fill="#f5ae3f"/>
<rect x="1692.9" y="234.9" width="84" height="32.1" fill="#f5ae3f"/>
<g id="flag"><rect x="449" y="526" width="127" height="81" fill="#fff"/><rect x="449" y="526" width="35" height="81" fill="#fb120c"/><rect x="484" y="526" width="92" height="27" fill="#2e8b2c"/><rect x="484" y="580.3" width="92" height="26.7" fill="#030406"/></g>
<rect x="609.9" y="659.1" width="283" height="100" fill="#000"/>
<rect x="890.6" y="660.3" width="280.1" height="97.6" fill="#fff" stroke="#000" stroke-width="2.4"/>
<g id="grid">
<rect x="136" y="1306.0" width="1794" height="2.9" fill="#dde3f3"/>
<rect x="136" y="1247.1" width="1794" height="2.9" fill="#dde3f3"/>
<rect x="136" y="1188.3" width="1794" height="2.9" fill="#dde3f3"/>
<rect x="136" y="1129.5" width="1794" height="2.9" fill="#dde3f3"/>
<rect x="136" y="1070.8" width="1794" height="2.9" fill="#dde3f3"/>
<rect x="136" y="1011.9" width="1794" height="2.9" fill="#dde3f3"/>
<rect x="136" y="955.6" width="1794" height="2.9" fill="#dde3f3"/>
</g>
<g id="bars">
<rect x="164.2" y="957.6" width="131.6" height="407.9" fill="#fff" stroke="#000" stroke-width="2.7"/>
<rect x="162.8" y="1203.5" width="134.3" height="163.3" fill="#000"/>
<rect x="353.2" y="1145.6" width="131.6" height="219.8" fill="#fff" stroke="#000" stroke-width="2.7"/>
<rect x="351.8" y="1230.4" width="134.3" height="136.4" fill="#000"/>
<rect x="531.9" y="1072.1" width="131.6" height="293.3" fill="#fff" stroke="#000" stroke-width="2.7"/>
<rect x="530.5" y="1218.9" width="134.3" height="147.9" fill="#000"/>
<rect x="713.4" y="957.6" width="131.9" height="407.9" fill="#fff" stroke="#000" stroke-width="2.7"/>
<rect x="712.0" y="1277.4" width="134.6" height="89.4" fill="#000"/>
<rect x="891.1" y="1219.0" width="131.4" height="146.4" fill="#fff" stroke="#000" stroke-width="2.7"/>
<rect x="889.7" y="1337.0" width="134.1" height="29.8" fill="#000"/>
<rect x="1063.9" y="1145.5" width="131.4" height="219.9" fill="#fff" stroke="#000" stroke-width="2.7"/>
<rect x="1062.6" y="1160.4" width="134.1" height="206.4" fill="#000"/>
<rect x="1244.4" y="1072.1" width="131.4" height="293.3" fill="#fff" stroke="#000" stroke-width="2.7"/>
<rect x="1243.1" y="1291.6" width="134.1" height="75.2" fill="#000"/>
<rect x="1418.9" y="1072.1" width="131.4" height="293.3" fill="#fff" stroke="#000" stroke-width="2.7"/>
<rect x="1596.8" y="957.6" width="131.4" height="407.9" fill="#fff" stroke="#000" stroke-width="2.7"/>
<rect x="1595.5" y="1293.9" width="134.1" height="72.9" fill="#000"/>
<rect x="1774.3" y="1219.0" width="131.5" height="146.4" fill="#fff" stroke="#000" stroke-width="2.7"/>
<rect x="1773.0" y="1313.1" width="134.2" height="53.7" fill="#000"/>
</g>
<rect x="1295.6" y="1656.2" width="56" height="55.7" fill="#000"/>
<rect x="1736.7" y="1656.5" width="55.8" height="55.8" fill="#fff" stroke="#000" stroke-width="3.4"/>
<g id="boat">
<circle cx="404.8" cy="1850.1" r="27.2" fill="#2399c4"/>
<path d="M354.8,1814.6 Q328.4,1855 351.2,1888 L376,1886.8 L417.1,1877 Z" fill="#f5ae45"/>
<line x1="347.2" y1="1804.9" x2="420.7" y2="1876.2" stroke="#1f4a66" stroke-width="4" stroke-linecap="round"/>
<line x1="374.7" y1="1814" x2="374.7" y2="1888" stroke="#1f4a66" stroke-width="3.6" stroke-linecap="round"/>
<path d="M335.9,1888.2 Q360,1888.6 376.5,1886.7 Q398,1883 417.1,1877.7 Q423,1875.5 427.2,1869.7 Q432,1866 438.1,1863.9 Q436.5,1868.5 433,1873.3 Q421,1887 407,1898.7 Q398,1894.8 388,1895.6 Q377,1896.8 366,1900.5 Q354,1904.4 346.8,1903.8 Q339,1899 335.9,1888.2Z" fill="#1f4a66"/>
<path d="M422.5,1876.3 L430.6,1875.6 L429.6,1877 L421.3,1877.6Z" fill="#fff"/>
<path d="M337,1909.4 Q352,1908 366,1902.5 Q381,1896.5 392,1896.6 Q401,1897 408.4,1903.2 Q400,1899.6 391,1900 Q380,1900.6 366,1905 Q350,1909.6 337,1909.4Z" fill="#f5ae45"/>
<path d="M371.8,1905.7 Q383,1902.4 393,1901.6 Q402,1901.4 409.9,1903.9 Q401,1903 393,1903.2 Q383,1903.6 371.8,1905.7Z" fill="#2399c4"/>
</g>
<path fill="#1f4a66" fill-rule="evenodd" d="M454.1,1897.5 453.5,1897.7 452.6,1898.6 452.2,1899.1 452,1899.5 452,1899.8 452.3,1900.4 453,1901.3 453.6,1901.7 454.1,1901.9 454.6,1901.9 455.4,1901.6 456.2,1900.8 456.7,1900 456.7,1899.4 456.4,1898.8 455.6,1898 454.7,1897.5ZM448.6,1897.5 448,1897.7 447.1,1898.6 446.7,1899.1 446.5,1899.5 446.5,1899.8 446.8,1900.4 447.5,1901.3 448.1,1901.7 448.6,1901.9 449.1,1901.9 449.9,1901.6 450.7,1900.8 451.2,1900 451.2,1899.4 450.9,1898.8 450.1,1898 449.2,1897.5ZM608.9,1890.1 608.5,1890.3 608.1,1890.6 607.3,1891.3 606.9,1891.9 606.8,1892.1 606.8,1892.5 607.2,1893.3 607.9,1894 608.3,1894.3 608.9,1894.6 609.4,1894.6 609.8,1894.4 610.3,1894.2 611,1893.5 611.4,1892.8 611.5,1892.6 611.5,1892 611.2,1891.4 610.9,1891.1 610.2,1890.5 609.4,1890.1ZM601,1890.1 600.2,1890.5 599.8,1890.8 599.2,1891.4 598.9,1892 598.9,1892.7 599.4,1893.4 600.1,1894.2 600.8,1894.5 601,1894.6 601.5,1894.6 602.1,1894.3 602.9,1893.6 603.5,1892.8 603.6,1892.5 603.6,1892.2 603.5,1891.9 603.1,1891.3 602.4,1890.6 601.7,1890.2 601.5,1890.1ZM595.5,1890.1 594.7,1890.5 594.4,1890.8 593.7,1891.4 593.4,1892 593.4,1892.7 593.9,1893.4 594.7,1894.2 595.3,1894.5 595.5,1894.6 596,1894.6 596.6,1894.3 597.4,1893.6 598,1892.8 598.1,1892.5 598.1,1892.2 598,1891.9 597.6,1891.3 596.9,1890.6 596.3,1890.2 596,1890.1ZM499.7,1890.1 499,1890.5 498.6,1890.8 498,1891.4 497.7,1892 497.7,1892.7 498.1,1893.4 498.9,1894.2 499.5,1894.5 499.7,1894.6 500.3,1894.6 500.9,1894.3 501.6,1893.6 502.2,1892.8 502.3,1892.5 502.3,1892.2 502.2,1891.9 501.9,1891.3 501.1,1890.6 500.5,1890.2 500.3,1890.1ZM494.2,1890.1 493.5,1890.5 493.1,1890.8 492.5,1891.4 492.2,1892 492.2,1892.7 492.6,1893.4 493.4,1894.2 494,1894.5 494.2,1894.6 494.8,1894.6 495.4,1894.3 496.1,1893.6 496.8,1892.8 496.8,1892.5 496.8,1892.2 496.8,1891.9 496.4,1891.3 495.6,1890.6 495,1890.2 494.8,1890.1ZM481.6,1890.1 481,1890.4 480.1,1891.2 479.7,1891.7 479.5,1892.2 479.5,1892.5 479.8,1893.1 480.5,1893.9 481.1,1894.4 481.6,1894.6 482.1,1894.6 482.9,1894.2 483.7,1893.4 484.2,1892.7 484.2,1892 483.9,1891.4 483.1,1890.6 482.2,1890.1ZM626.7,1869.3 626.7,1887.7 630.9,1887.7 630.9,1869.3ZM621.9,1869.3 617.7,1869.3 617.7,1883.2 614.2,1883.1 611.4,1883.2 611.3,1883 611.3,1874 607.1,1874 607,1883.2 603.6,1883.1 600.8,1883.2 600.6,1883 600.6,1874 596.4,1874 596.3,1883.2 592.9,1883.1 582.5,1883.1 582.5,1874 578.4,1874 578.4,1883 578.2,1883.2 563.5,1883.2 563.3,1883 563,1881.8 563,1879.6 563.3,1877.7 563.7,1876.4 563.6,1876.2 563.2,1876.2 559.7,1875.6 559.1,1877.8 558.8,1880.2 558.8,1882.5 559,1884 559.3,1885.1 559.8,1885.9 560.6,1886.8 561.5,1887.3 562.6,1887.6 563.1,1887.7 621.9,1887.7ZM544,1869.3 544,1887.7 548.2,1887.7 548.2,1869.3ZM539.2,1869.3 535,1869.3 534.9,1883.2 531.6,1883.1 529.3,1883.2 529.1,1882.9 527.7,1879.1 527.1,1877.9 526,1876.3 525.1,1875.5 523.7,1874.6 522.1,1874 521.1,1873.8 520,1873.6 518.4,1873.6 516.4,1873.6 514.7,1873.8 514.7,1873.8 514.1,1873.8 514.1,1874.3 514.3,1874.9 514.3,1875.4 514.6,1877 514.6,1877.5 514.7,1878 514.7,1878.1 514.7,1878.4 515.6,1878.2 516.6,1878.2 519.5,1878.2 520.5,1878.3 521.5,1878.6 522,1878.8 522.8,1879.4 523.2,1879.9 522.8,1880.7 522.3,1881.4 521.5,1882.1 520.7,1882.6 520.1,1882.9 519.2,1883.1 518.5,1883.2 513,1883.1 510.2,1883.2 510,1883 510,1869.3 505.8,1869.3 505.7,1883.2 502.3,1883.1 499.5,1883.2 499.3,1883 499.3,1874 495.2,1874 495.1,1883.2 491.7,1883.1 489.4,1883.2 489.3,1883 489.1,1882.5 487.8,1879.1 486.9,1877.4 486.2,1876.3 485.3,1875.5 484.4,1874.9 483.7,1874.5 482.3,1874 481.3,1873.8 480.1,1873.6 478.4,1873.6 476.6,1873.6 474.9,1873.8 474.8,1873.8 474.3,1873.8 474.3,1874.3 474.4,1874.9 474.4,1875.4 474.7,1877 474.7,1877.5 474.8,1878 474.9,1878.1 474.9,1878.4 475.7,1878.2 476.7,1878.2 479.6,1878.2 481,1878.4 481.7,1878.6 482.6,1879.1 483.1,1879.6 483.3,1879.9 482.7,1881.1 481.7,1882.1 480.8,1882.6 479.8,1883 478.6,1883.2 473.1,1883.1 456.5,1883.2 454.8,1883 452.7,1882.6 452,1882.4 451.7,1882.4 451.2,1886.3 451.1,1886.4 451.1,1886.7 452.8,1887.2 454.5,1887.5 455.8,1887.6 458.5,1887.8 458.5,1890.3 458.3,1890.7 458.1,1890.9 457.4,1891.2 456.8,1891.4 455.5,1891.5 444.8,1891.4 444.6,1890.3 444.5,1887.9 444.7,1886.2 445,1885 445.4,1883.8 445.1,1883.8 445,1883.7 441.3,1883.2 440.8,1884.9 440.4,1887.1 440.3,1888.1 440.3,1890.3 440.5,1891.4 440.8,1892.7 441.2,1893.4 441.7,1894 442.7,1894.8 443.5,1895.2 444.6,1895.5 446.2,1895.8 447.5,1896 450.7,1896.1 454.2,1896.1 457.1,1895.8 458.1,1895.5 459.5,1895.1 460.7,1894.4 461.6,1893.6 462.2,1892.7 462.5,1891.5 462.7,1890.6 462.9,1887.7 478.7,1887.7 479.4,1887.6 481.1,1887.3 482,1887 483,1886.5 484.3,1885.6 485.3,1884.6 485.6,1884.5 485.6,1884.7 485.7,1884.9 485.8,1885.3 486.2,1886.2 486.6,1887 487.2,1887.4 487.5,1887.6 488.1,1887.7 518.5,1887.7 520.5,1887.4 521.8,1887 522.9,1886.5 524.2,1885.6 525.1,1884.6 525.4,1884.5 525.4,1884.7 525.6,1884.9 525.6,1885.3 526.2,1886.5 526.5,1887 526.8,1887.3 527.5,1887.6 527.9,1887.7 539.2,1887.7ZM573.4,1868.9 572.6,1869.3 571.7,1870.2 571.3,1870.8 571.3,1871.4 571.6,1872 572.5,1872.9 573.2,1873.3 573.4,1873.4 573.9,1873.4 574.3,1873.3 574.8,1872.9 575.7,1872 576,1871.4 576,1870.9 575.6,1870.2 574.7,1869.3 573.9,1868.9ZM567.9,1868.9 567.2,1869.3 566.2,1870.2 565.9,1870.8 565.9,1871.4 566.2,1872 567,1872.9 567.7,1873.3 567.9,1873.4 568.4,1873.4 568.8,1873.3 569.4,1872.9 570.2,1872 570.5,1871.4 570.5,1870.9 570.1,1870.2 569.2,1869.3 568.4,1868.9ZM520.6,1866 519.8,1866.4 519.5,1866.7 518.9,1867.3 518.5,1867.9 518.5,1868.6 519,1869.3 519.8,1870 520.4,1870.4 520.6,1870.5 521.1,1870.5 521.7,1870.2 522.5,1869.5 523.1,1868.6 523.2,1868.4 523.2,1868.1 523.1,1867.8 522.7,1867.2 522,1866.4 521.4,1866.1 521.1,1866Z"/>
<path fill="#2f9cc6" stroke="#2f9cc6" stroke-width="0.35" fill-rule="evenodd" d="M561.7,1902.6 561.5,1902.6 561.3,1902.6 561,1904 562.1,1905.2 562.1,1905.6 561.9,1905.9 561,1906.7 559.5,1907.4 558.7,1907.7 557.9,1907.7 557.1,1907.6 557.1,1907.6 557.1,1907.8 559,1908.5 559.6,1908.6 560.2,1908.4 561,1908 562,1907.2 562.4,1906.6 562.6,1906 562.7,1904.7 562.4,1903.6ZM527.1,1902.7 526.8,1902.6 526.4,1902.5 525.9,1902.8 525.4,1903.6 525.1,1904.5 525.2,1905.1 525.6,1905.5 526.3,1905.6 526.9,1905.2 527.1,1905.6 526.8,1905.9 525.7,1906.9 524.6,1907.6 523.2,1907.8 522.2,1907.8 522.1,1907.8 522.1,1908 523.7,1908.4 525,1908.5 525.8,1908.1 526.6,1907.4 527.4,1906.2 527.8,1904.5 527.6,1903.6 527.4,1903ZM525.8,1904.1 526.1,1903.9 526.4,1903.9 526.7,1904.2 526.4,1904.3 526.1,1904.3ZM543.7,1902.5 543.3,1901.8 543.1,1901.7 543,1901.7 542.6,1903 543,1903.4 543.2,1903.8 542.4,1904.1 541.4,1904.4 539.9,1904.7 537,1904.8 535.9,1904.7 535,1904.4 534.2,1904 533.9,1903.4 534.2,1902.9 534.5,1902.6 534.5,1902.5 534.2,1902.4 533.8,1902.8 533.5,1903.3 533.3,1903.9 533.3,1904.4 533.4,1904.9 534,1905.4 535.2,1905.9 536.4,1906.1 537.7,1906.2 540.1,1905.9 542.1,1905.4 543.4,1904.7 543.7,1904.4 543.8,1903.9 543.9,1903.2ZM507.7,1901.3 507.2,1901 506.6,1900.8 506,1901.3 505.4,1901 505.1,1901.2 504.6,1901.8 504.6,1902 505.6,1902.6 505.8,1902.5 506.3,1902 507,1902.3 507.7,1901.4ZM516.2,1900.5 515.5,1901.4 515.5,1901.5 516.6,1902.1 517.3,1901.2 517.3,1901 516.7,1900.7ZM540.1,1900.8 539.9,1900.6 539.2,1900.3 538.9,1900.3 538.5,1900.8 537.9,1900.5 537.6,1900.5 536.9,1901.5 538,1902.1 538.1,1902 538.6,1901.4 539.3,1901.8 539.4,1901.8 540.1,1901ZM505.5,1899.6 504.9,1900.4 504.9,1900.5 506,1901.1 506.7,1900.3 506.7,1900 505.8,1899.6ZM588.9,1899.5 588.1,1898.5 587.8,1898.6 587.5,1899.2 588,1903.6 588.1,1904.7 588,1904.7 587.3,1904.7 587,1904.4 586.7,1903.8 586.4,1902.5 586,1898.7 585.9,1898.6 585.6,1898.5 585,1899.3 585.5,1904 585.3,1904.4 584.8,1904.7 583.4,1904.9 580,1905 573.5,1905 569.8,1904.8 569.5,1904.5 569.2,1903.9 568.9,1902.8 568.6,1900.4 568.3,1900.3 567.9,1900.8 567.8,1901.3 568.2,1903.7 568.1,1904 567.5,1904.4 566.5,1904.5 565.2,1904.5 564.8,1904 564.6,1904.1 564.5,1904.4 564.4,1905.2 564.5,1905.5 565,1905.8 566.9,1905.8 567.7,1905.5 568.4,1904.6 568.6,1905.2 568.9,1905.7 569.3,1906 569.7,1906.1 574.2,1906.3 580.8,1906.3 584.8,1906 585.2,1905.9 585.5,1905.6 585.9,1905.1 586.2,1905.6 586.6,1906 587,1906.2 587.6,1906.3 588,1906.1 588.5,1905.8 588.9,1904.7 588.9,1903.4 588.5,1900.2 588.9,1899.8ZM556.8,1898.1 556.7,1898.2 556.1,1899.3 556,1899.8 556.7,1904 556.7,1905.7 556.8,1905.9 556.9,1905.9 557.2,1905.6 557.4,1904.9 557.4,1902.6 557,1898.5ZM521.8,1898.1 521.7,1898.2 521.1,1899.3 521,1899.8 521.7,1904 521.8,1905.7 521.8,1905.9 521.9,1905.9 522.2,1905.6 522.4,1904.9 522.4,1902.6 522,1898.5ZM519.5,1899 519,1898.5 518.6,1897.8 518.4,1897.9 518,1898.6 519,1904.4 518.4,1904.7 517.8,1904.8 517.2,1904.4 517.1,1904 516.9,1904 516.2,1904.5 515.2,1904.8 509.9,1904.8 509.2,1904.6 508.9,1904.3 508.6,1903.7 508.3,1903.7 508.2,1903.8 507.9,1904.5 507.5,1904.7 507,1904.7 506.7,1904.5 506.6,1904.4 506.8,1903.8 506.7,1903.7 506.5,1903.7 505.9,1904.4 505.3,1904.7 504.7,1904.7 504.3,1904.5 504.4,1904.2 504.4,1904 504.1,1903.9 503.6,1904.5 502.7,1904.8 497.8,1905 491.3,1905 487.2,1904.8 486.9,1904.6 486.7,1904.2 486.5,1904 486.4,1904.1 485.8,1905.2 485.8,1905.4 486.5,1906.1 486.5,1906.3 485.7,1907.2 484.8,1907.8 484,1908.2 483.2,1908.4 481.9,1908.3 481.8,1908.5 483,1909 483.6,1909.1 484.6,1909.1 485.2,1908.9 486,1908.3 486.5,1907.7 486.8,1907 487.1,1906.1 491.9,1906.3 498.6,1906.3 502.4,1906.1 503,1905.9 503.4,1905.7 504,1906 504.8,1906 505.5,1905.9 505.8,1905.6 506.4,1906 507.4,1906.1 507.8,1905.8 508.2,1905 508.6,1905.5 509,1905.9 509.7,1906.1 514.8,1906.1 515.7,1905.9 516.6,1905.4 517.3,1905.9 518,1906.1 518.6,1905.9 519,1905.5 519.3,1905.1 519.5,1904.4 519.5,1902.8 519.1,1899.6 519.4,1899.3ZM545.8,1897.9 545.2,1898.8 545.2,1899.2 545.6,1901.2 545.8,1904.8 546.1,1905.5 546.8,1905.9 547.8,1906.1 548.4,1905.8 549,1905.3 549.7,1905.7 550,1905.8 550.5,1905.9 550.9,1905.8 551.7,1905.2 552,1904.8 552.4,1905.1 552.9,1905.2 553.7,1905.3 553.9,1905.2 554.3,1904.7 554.5,1903.9 554.5,1902.9 554.4,1902.6 554.2,1902.5 553.7,1903.2 553.7,1903.4 553.9,1903.8 553.9,1904 553.5,1904 552.7,1903.7 552.6,1903.6 552.7,1903.1 552.4,1903 551.8,1904 551.5,1904.3 551.1,1904.5 550.5,1904.5 550,1904.3 549.9,1904.2 550,1904 549.9,1903.7 549.7,1903.7 549.4,1904.1 548.9,1904.5 548.2,1904.7 547.3,1904.7 546.7,1904.4 546.5,1903.9 546.4,1900.8 546.1,1898.1 546,1897.8Z"/>
<g id="social" fill="#2399c4">
<rect x="296.4" y="1966.4" width="13" height="13" rx="3.4" fill="none" stroke="#2399c4" stroke-width="1.6"/><circle cx="302.9" cy="1972.9" r="3.1" fill="none" stroke="#2399c4" stroke-width="1.5"/><circle cx="306.9" cy="1968.9" r="0.9"/>
<rect x="320" y="1966" width="19.3" height="13.9" rx="2.6"/><path d="M327.4,1969.6 L333,1972.9 L327.4,1976.2Z" fill="#fff"/>
<path transform="translate(347.6,1964.2) scale(0.76)" d="M23.95 4.57a10 10 0 0 1-2.82.77 4.96 4.96 0 0 0 2.16-2.72c-.95.55-2 .96-3.13 1.18a4.92 4.92 0 0 0-8.38 4.48C7.69 8.1 4.07 6.13 1.64 3.16a4.82 4.82 0 0 0-.67 2.48c0 1.71.87 3.21 2.19 4.1a4.9 4.9 0 0 1-2.23-.62v.06a4.92 4.92 0 0 0 3.95 4.83 4.86 4.86 0 0 1-2.21.08 4.93 4.93 0 0 0 4.6 3.42A9.87 9.87 0 0 1 0 19.54a13.94 13.94 0 0 0 7.55 2.21c9.05 0 14-7.5 14-13.98 0-.21 0-.42-.02-.63a9.94 9.94 0 0 0 2.46-2.55z"/>
<rect x="375.4" y="1965.6" width="14.8" height="14.9" rx="1.6"/><path d="M385.7,1980.5 v-5.6 h1.9 l0.3,-2.3 h-2.2 v-1.4 c0,-0.7 0.2,-1.1 1.1,-1.1 h1.2 v-2 c-0.2,0 -0.9,-0.1 -1.7,-0.1 c-1.7,0 -2.9,1 -2.9,3 v1.6 h-1.9 v2.3 h1.9 v5.6z" fill="#fff"/>
</g>
<rect x="396.3" y="1955.5" width="1.7" height="35" fill="#a9c4cc"/>
</svg>
<div class="t ls b" style="left:400.1px;top:291.4px;font-size:51.75px;color:#2c444e;transform:scaleX(0.9267);">Summary of Results</div>
<div class="t lf b" style="left:1281.3px;top:118.4px;font-size:39.40px;color:#f5a742;transform:scaleX(0.8253);-webkit-text-stroke:0.7px #f5a742;">GCC</div>
<div class="t lf b" style="left:1355.0px;top:118.4px;font-size:39.40px;color:#fff;transform:scaleX(0.9289);-webkit-text-stroke:0.7px #fff;">PPI</div>
<div class="t ls b" style="left:1448.7px;top:151.7px;font-size:29.51px;color:#fff;transform:scaleX(1.1123);-webkit-text-stroke:0.8px #fff;">2024</div>
<div class="t ls b" style="left:1697.6px;top:236.2px;font-size:29.80px;color:#fff;transform:scaleX(1.1061);-webkit-text-stroke:0.8px #fff;">2024</div>
<div class="t lf b" style="left:1448.8px;top:196.6px;font-size:34.21px;color:#2496c4;transform:scaleX(1.0864);-webkit-text-stroke:0.5px #2496c4;">Political Participation Index</div>
<div class="t lf b" style="left:1448.7px;top:231.9px;font-size:32.99px;color:#2496c4;transform:scaleX(0.9426);-webkit-text-stroke:0.5px #2496c4;">in the GCC States</div>
<div class="t ls" style="left:612.6px;top:516.8px;font-size:89.54px;color:#000;transform:scaleX(0.8942);-webkit-text-stroke:1.3px #000;">UNITED</div>
<div class="t ls" style="left:934.3px;top:516.8px;font-size:89.54px;color:#000;transform:scaleX(0.8919);-webkit-text-stroke:1.3px #000;">ARAB</div>
<div class="t ls" style="left:1173.1px;top:516.8px;font-size:89.54px;color:#000;transform:scaleX(0.8789);-webkit-text-stroke:1.3px #000;">EMIRATES</div>
<div class="t ls b" style="left:686.2px;top:671.2px;font-size:76.75px;color:#fff;transform:scaleX(1.0411);">330</div>
<div class="t ls b" style="left:943.2px;top:671.2px;font-size:76.75px;color:#000;transform:scaleX(1.0372);">1000</div>
<div class="t ls" style="left:108.3px;top:1351.1px;font-size:27.62px;color:#b0b0b0;transform:scaleX(1.0832);-webkit-text-stroke:0.3px #b0b0b0;">0</div>
<div class="t ls" style="left:92.3px;top:1292.3px;font-size:27.62px;color:#b0b0b0;transform:scaleX(1.0619);-webkit-text-stroke:0.3px #b0b0b0;">20</div>
<div class="t ls" style="left:93.1px;top:1233.5px;font-size:27.62px;color:#b0b0b0;transform:scaleX(1.0343);-webkit-text-stroke:0.3px #b0b0b0;">40</div>
<div class="t ls" style="left:92.3px;top:1174.7px;font-size:27.62px;color:#b0b0b0;transform:scaleX(1.0624);-webkit-text-stroke:0.3px #b0b0b0;">60</div>
<div class="t ls" style="left:92.5px;top:1115.9px;font-size:27.62px;color:#b0b0b0;transform:scaleX(1.0549);-webkit-text-stroke:0.3px #b0b0b0;">80</div>
<div class="t ls" style="left:75.8px;top:1057.1px;font-size:27.62px;color:#b0b0b0;transform:scaleX(1.0677);-webkit-text-stroke:0.3px #b0b0b0;">100</div>
<div class="t ls" style="left:75.8px;top:998.3px;font-size:27.62px;color:#b0b0b0;transform:scaleX(1.0677);-webkit-text-stroke:0.3px #b0b0b0;">120</div>
<div class="t ls" style="left:75.8px;top:942.0px;font-size:27.62px;color:#b0b0b0;transform:scaleX(1.0677);-webkit-text-stroke:0.3px #b0b0b0;">150</div>
<div class="t ls b" style="left:184.0px;top:879.5px;font-size:51.31px;color:#000;transform:scaleX(1.0938);">150</div>
<div class="t ls b" style="left:389.9px;top:1078.9px;font-size:51.31px;color:#000;transform:scaleX(1.0367);">75</div>
<div class="t ls b" style="left:552.4px;top:1016.3px;font-size:51.31px;color:#000;transform:scaleX(1.0726);">100</div>
<div class="t ls b" style="left:733.5px;top:879.6px;font-size:51.31px;color:#000;transform:scaleX(1.0938);">150</div>
<div class="t ls b" style="left:926.1px;top:1136.3px;font-size:51.31px;color:#000;transform:scaleX(1.0976);">50</div>
<div class="t ls b" style="left:1098.9px;top:1079.3px;font-size:51.31px;color:#000;transform:scaleX(1.0723);">75</div>
<div class="t ls b" style="left:1264.5px;top:1017.0px;font-size:51.31px;color:#000;transform:scaleX(1.0801);">100</div>
<div class="t ls b" style="left:1438.9px;top:1017.0px;font-size:51.31px;color:#000;transform:scaleX(1.0813);">100</div>
<div class="t ls b" style="left:1616.1px;top:893.4px;font-size:51.31px;color:#000;transform:scaleX(1.0938);">150</div>
<div class="t ls b" style="left:1809.2px;top:1137.2px;font-size:51.31px;color:#000;transform:scaleX(1.1126);">50</div>
<div class="t ls b" style="left:199.1px;top:1299.8px;font-size:51.75px;color:#fff;transform:scaleX(1.0803);">55</div>
<div class="t ls b" style="left:388.8px;top:1299.8px;font-size:51.75px;color:#fff;transform:scaleX(1.0564);">46</div>
<div class="t ls b" style="left:566.8px;top:1299.8px;font-size:51.75px;color:#fff;transform:scaleX(1.0754);">50</div>
<div class="t ls b" style="left:749.0px;top:1299.8px;font-size:51.75px;color:#fff;transform:scaleX(1.0140);">31</div>
<div class="t ls b" style="left:926.5px;top:1284.9px;font-size:51.75px;color:#000;transform:scaleX(1.0810);">10</div>
<div class="t ls b" style="left:1098.3px;top:1299.8px;font-size:51.75px;color:#fff;transform:scaleX(1.0881);">70</div>
<div class="t ls b" style="left:1279.2px;top:1301.5px;font-size:51.75px;color:#fff;transform:scaleX(1.0985);">26</div>
<div class="t ls b" style="left:1467.6px;top:1301.5px;font-size:51.75px;color:#000;transform:scaleX(1.1662);">0</div>
<div class="t ls b" style="left:1631.0px;top:1301.5px;font-size:51.75px;color:#fff;transform:scaleX(1.0453);">24</div>
<div class="t ls b" style="left:1809.9px;top:1301.5px;font-size:51.75px;color:#fff;transform:scaleX(1.0815);-webkit-text-stroke:2.2px #000;paint-order:stroke fill;">18</div>
<div class="t ls" style="left:0;top:0;font-size:33.72px;color:#000;transform:translate(278.0px,1400.1px) rotate(90deg) scaleX(0.8849);-webkit-text-stroke:0.4px #000;">Access to Leadership</div>
<div class="t ls" style="left:0;top:0;font-size:33.72px;color:#000;transform:translate(242.2px,1398.9px) rotate(90deg) scaleX(0.9101);-webkit-text-stroke:0.4px #000;">and Sensitive Positions</div>
<div class="t ls" style="left:0;top:0;font-size:33.72px;color:#000;transform:translate(437.4px,1397.7px) rotate(90deg) scaleX(0.9056);-webkit-text-stroke:0.4px #000;">Foreign Communities</div>
<div class="t ls" style="left:0;top:0;font-size:33.72px;color:#000;transform:translate(632.5px,1397.6px) rotate(90deg) scaleX(0.9295);-webkit-text-stroke:0.4px #000;">Representation of</div>
<div class="t ls" style="left:0;top:0;font-size:33.72px;color:#000;transform:translate(597.5px,1398.9px) rotate(90deg) scaleX(0.9201);-webkit-text-stroke:0.4px #000;">groups and minorities</div>
<div class="t ls" style="left:0;top:0;font-size:33.72px;color:#000;transform:translate(810.7px,1397.7px) rotate(90deg) scaleX(0.9046);-webkit-text-stroke:0.4px #000;">Freedom of Opinion</div>
<div class="t ls" style="left:0;top:0;font-size:33.72px;color:#000;transform:translate(774.9px,1398.9px) rotate(90deg) scaleX(0.8937);-webkit-text-stroke:0.4px #000;">and Expression</div>
<div class="t ls" style="left:0;top:0;font-size:33.72px;color:#000;transform:translate(970.0px,1397.6px) rotate(90deg) scaleX(0.8873);-webkit-text-stroke:0.4px #000;">Transparency</div>
<div class="t ls" style="left:0;top:0;font-size:33.72px;color:#000;transform:translate(1165.2px,1398.7px) rotate(90deg) scaleX(0.8840);-webkit-text-stroke:0.4px #000;">Gender Equivalence</div>
<div class="t ls" style="left:0;top:0;font-size:33.72px;color:#000;transform:translate(1129.6px,1398.9px) rotate(90deg) scaleX(0.8952);-webkit-text-stroke:0.4px #000;">and Youth Engagement</div>
<div class="t ls" style="left:0;top:0;font-size:33.72px;color:#000;transform:translate(1342.8px,1398.7px) rotate(90deg) scaleX(0.8732);-webkit-text-stroke:0.4px #000;">Civil Society</div>
<div class="t ls" style="left:0;top:0;font-size:33.72px;color:#000;transform:translate(1307.3px,1397.2px) rotate(90deg) scaleX(0.9779);-webkit-text-stroke:0.4px #000;">Institutions</div>
<div class="t ls" style="left:0;top:0;font-size:33.72px;color:#000;transform:translate(1521.0px,1397.6px) rotate(90deg) scaleX(0.9391);-webkit-text-stroke:0.4px #000;">Political</div>
<div class="t ls" style="left:0;top:0;font-size:33.72px;color:#000;transform:translate(1484.9px,1397.3px) rotate(90deg) scaleX(0.9184);-webkit-text-stroke:0.4px #000;">Organisations</div>
<div class="t ls" style="left:0;top:0;font-size:33.72px;color:#000;transform:translate(1697.6px,1397.9px) rotate(90deg) scaleX(0.8887);-webkit-text-stroke:0.4px #000;">General</div>
<div class="t ls" style="left:0;top:0;font-size:33.72px;color:#000;transform:translate(1662.3px,1398.5px) rotate(90deg) scaleX(0.9093);-webkit-text-stroke:0.4px #000;">Elections</div>
<div class="t ls" style="left:0;top:0;font-size:33.72px;color:#000;transform:translate(1876.0px,1398.1px) rotate(90deg) scaleX(0.9418);-webkit-text-stroke:0.4px #000;">Constitutional</div>
<div class="t ls" style="left:0;top:0;font-size:33.72px;color:#000;transform:translate(1840.4px,1398.1px) rotate(90deg) scaleX(0.9221);-webkit-text-stroke:0.4px #000;">Life</div>
<div class="t ls" style="left:1360.4px;top:1666.6px;font-size:33.43px;color:#000;transform:scaleX(0.9238);-webkit-text-stroke:0.4px #000;">State Performance</div>
<div class="t ls" style="left:1802.7px;top:1666.9px;font-size:33.43px;color:#000;transform:scaleX(0.8983);-webkit-text-stroke:0.4px #000;">Index Range</div>
<div class="t ls b" style="left:137.2px;top:1860.3px;font-size:38.23px;color:#1f4a66;transform:scaleX(0.9287);">Gulf</div>
<div class="t ls b" style="left:218.9px;top:1860.3px;font-size:38.23px;color:#1f4a66;transform:scaleX(0.9578);">House</div>
<div class="t lf b" style="left:178.0px;top:1895.1px;font-size:13.13px;color:#2a9ac8;transform:scaleX(0.9351);">Studies &amp; Publishing</div>
<div class="t ls b" style="left:279.0px;top:1931.2px;font-size:20.25px;color:#1f4a66;transform:scaleX(0.9699);">www.</div>
<div class="t ls b" style="left:329.0px;top:1926.3px;font-size:25.93px;color:#1f4a66;transform:scaleX(1.0252);-webkit-text-stroke:0.6px #1f4a66;">gulfhouse</div>
<div class="t ls b" style="left:455.6px;top:1931.6px;font-size:19.69px;color:#1f4a66;transform:scaleX(0.9819);">.org</div>
<div class="t lf" style="left:402.9px;top:1962.4px;font-size:18.08px;color:#2a9ac4;transform:scaleX(1.0154);-webkit-text-stroke:0.35px #2a9ac4;">@gulfhsp</div>
</body></html>
